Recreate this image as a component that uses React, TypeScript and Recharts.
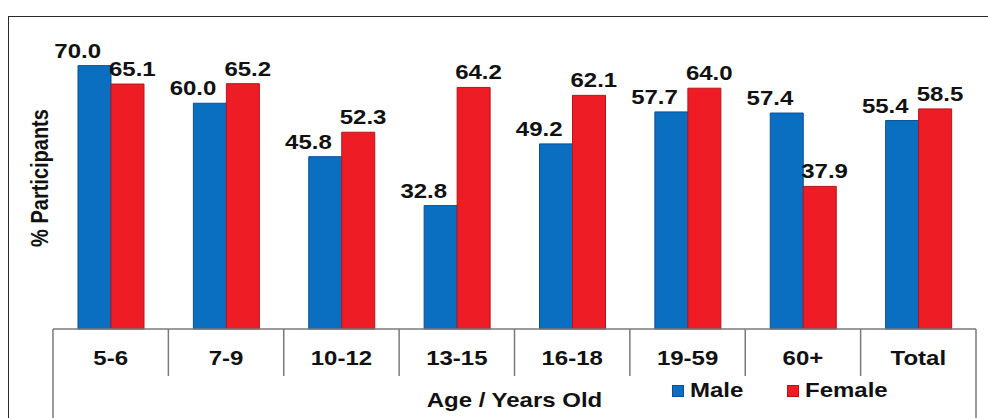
import React from "react";
import { BarChart, Bar, XAxis, YAxis, Legend, LabelList } from "recharts";

const categories = ["5-6", "7-9", "10-12", "13-15", "16-18", "19-59", "60+", "Total"];
const maleValues = [70.0, 60.0, 45.8, 32.8, 49.2, 57.7, 57.4, 55.4];
const femaleValues = [65.1, 65.2, 52.3, 64.2, 62.1, 64.0, 37.9, 58.5];
const seriesNames = ["Male", "Female"];

const data = categories.map((age, i) => ({
  age,
  male: maleValues[i],
  female: femaleValues[i],
}));

const W = 988;
const H = 418;
const MARGIN = { top: 28, right: 12, bottom: 0, left: 53 };
const X_AXIS_H = 89;
const PLOT_BOTTOM = H - MARGIN.bottom - X_AXIS_H;
const BAND = (W - MARGIN.left - MARGIN.right) / categories.length;

const MALE = "#0b6fc1";
const MALE_EDGE = "#0a4f95";
const FEMALE = "#ee1c25";
const FEMALE_EDGE = "#b8141b";
const GRID = "#7a7a7a";
const FONT = "'Liberation Sans', Arial, sans-serif";
// text in this chart is drawn a little wider than the normal face
const STRETCH = 1.2;

function StretchText({
  x,
  y,
  anchor = "middle",
  children,
}: {
  x: number;
  y: number;
  anchor?: "start" | "middle" | "end";
  children: React.ReactNode;
}) {
  return (
    <text
      transform={`translate(${x},${y}) scale(${STRETCH},1)`}
      textAnchor={anchor}
      fontFamily={FONT}
      fontWeight="bold"
      fontSize={20}
      fill="#111"
    >
      {children}
    </text>
  );
}

// category cell: label plus the divider on its right edge
function CategoryTick(props: any) {
  const { x, index, payload } = props;
  const last = index === categories.length - 1;
  const right = x + BAND / 2;
  return (
    <g>
      {index === 0 && (
        <line x1={x - BAND / 2} x2={x - BAND / 2} y1={PLOT_BOTTOM} y2={H} stroke={GRID} strokeWidth={1.5} />
      )}
      <line x1={right} x2={right} y1={PLOT_BOTTOM} y2={last ? H : PLOT_BOTTOM + 47} stroke={GRID} strokeWidth={1.5} />
      <StretchText x={x} y={PLOT_BOTTOM + 36}>
        {payload.value}
      </StretchText>
    </g>
  );
}

function maleLabel(p: any) {
  const { x, y, width, value } = p;
  return (
    <StretchText x={Number(x) + Number(width) - 10} y={Number(y) - 8} anchor="end">
      {Number(value).toFixed(1)}
    </StretchText>
  );
}

function femaleLabel(p: any) {
  const { x, y, value } = p;
  return (
    <StretchText x={Number(x) - 2} y={Number(y) - 8} anchor="start">
      {Number(value).toFixed(1)}
    </StretchText>
  );
}

function LegendBox(props: any) {
  const items = [...(props.payload ?? [])].sort(
    (a: any, b: any) => seriesNames.indexOf(a.value) - seriesNames.indexOf(b.value)
  );
  return (
    <svg width={260} height={30} style={{ display: "block" }}>
      {items.map((item: any, i: number) => (
        <g key={item.value} transform={`translate(${i * 115},0)`}>
          <rect
            x={4.5}
            y={7.5}
            width={11}
            height={11}
            fill={item.color}
            stroke={item.value === "Male" ? MALE_EDGE : FEMALE_EDGE}
            strokeWidth={1}
          />
          <StretchText x={22} y={19} anchor="start">
            {item.value}
          </StretchText>
        </g>
      ))}
    </svg>
  );
}

export default function App() {
  return (
    <div style={{ position: "absolute", left: 0, top: 0, width: W, height: H, background: "#fff", overflow: "hidden" }}>
      <div
        style={{
          position: "absolute",
          left: 8,
          top: 16,
          width: W,
          height: H,
          borderLeft: "1.5px solid #2b2b2b",
          borderTop: "1.5px solid #2b2b2b",
        }}
      />
      <div style={{ position: "absolute", left: 0, top: 0 }}>
        <BarChart width={W} height={H} data={data} margin={MARGIN} barGap={0} barSize={33}>
          <XAxis
            dataKey="age"
            height={X_AXIS_H}
            interval={0}
            tickLine={false}
            tickSize={0}
            tickMargin={0}
            axisLine={{ stroke: GRID, strokeWidth: 1.5 }}
            tick={<CategoryTick />}
            label={{
              content: (p: any) => {
                const vb = p.viewBox ?? {};
                return (
                  <StretchText x={(vb.x ?? MARGIN.left) + (vb.width ?? 0) / 2} y={PLOT_BOTTOM + 78}>
                    Age / Years Old
                  </StretchText>
                );
              },
            }}
          />
          <YAxis domain={[0, 80]} hide />
          <Legend
            layout="vertical"
            align="center"
            verticalAlign="middle"
            wrapperStyle={{ left: 668, top: 378, width: 260, right: "auto", bottom: "auto" }}
            content={<LegendBox />}
          />
          <Bar dataKey="male" name="Male" fill={MALE} stroke={MALE_EDGE} strokeWidth={1} isAnimationActive={false}>
            <LabelList dataKey="male" content={maleLabel} />
          </Bar>
          <Bar dataKey="female" name="Female" fill={FEMALE} stroke={FEMALE_EDGE} strokeWidth={1} isAnimationActive={false}>
            <LabelList dataKey="female" content={femaleLabel} />
          </Bar>
        </BarChart>
      </div>
      {/* vertical axis title */}
      <svg width={60} height={H} style={{ position: "absolute", left: 0, top: 0, pointerEvents: "none" }}>
        <text
          transform={`translate(${MARGIN.left - 5},178) rotate(-90) scale(1,${STRETCH})`}
          textAnchor="middle"
          fontFamily={FONT}
          fontWeight="bold"
          fontSize={20}
          fill="#111"
        >
          % Participants
        </text>
      </svg>
    </div>
  );
}
